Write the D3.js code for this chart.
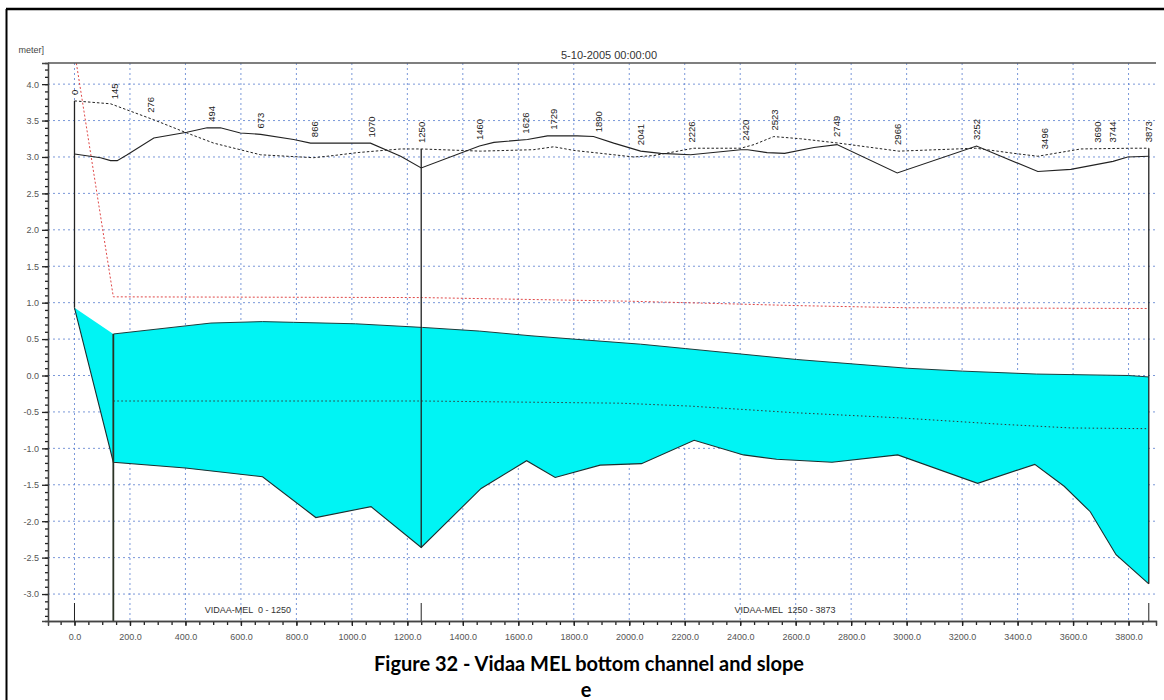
<!DOCTYPE html>
<html>
<head>
<meta charset="utf-8">
<script src="https://cdn.jsdelivr.net/npm/d3@7"></script>
<style>
body{margin:0;background:#fff;}
svg{display:block;font-family:"Liberation Sans",Arial,sans-serif;}
</style>
</head>
<body>
<div id="canvas"></div>
<script>
// cross-section chainages shown as rotated labels
var sectionCh = [0,145,276,494,673,866,1070,1250,1460,1626,1729,1890,2041,2226,2420,2523,2749,2966,3252,3496,3690,3744,3873];

// left bank (solid line)
var solidCh  = [0,94,130,154,190,286,405,478,526,598,671,790,851,1067,1176,1250,1460,1512,1633,1705,1813,1871,1944,2041,2113,2221,2402,2427,2497,2560,2666,2749,2966,3252,3473,3592,3744,3797,3873];
var solidLev = [3.04,2.99,2.95,2.95,3.03,3.26,3.34,3.40,3.40,3.33,3.31,3.24,3.19,3.19,3.01,2.85,3.15,3.20,3.24,3.29,3.29,3.28,3.19,3.08,3.05,3.03,3.10,3.10,3.06,3.05,3.13,3.17,2.78,3.15,2.80,2.83,2.94,3.00,3.01];

// right bank (dashed line)
var dashCh  = [0,130,286,405,502,671,862,935,1020,1176,1250,1464,1655,1728,1800,1897,2016,2089,2232,2402,2450,2521,2618,2755,2972,3249,3386,3473,3628,3808,3873];
var dashLev = [3.77,3.73,3.51,3.33,3.19,3.03,2.99,3.02,3.06,3.11,3.11,3.08,3.10,3.14,3.09,3.05,3.00,3.02,3.12,3.12,3.17,3.28,3.25,3.19,3.08,3.12,3.05,3.01,3.11,3.12,3.12];

// red dotted line
var redCh  = [0,140,1250,2000,2600,3000,3873];
var redLev = [4.45,1.08,1.07,1.02,0.96,0.93,0.92];

// water surface (top of cyan)
var waterCh  = [0,140,492,678,790,1013,1255,1460,1646,1833,2041,2202,2603,3002,3202,3468,3800,3873];
var waterLev = [0.93,0.57,0.72,0.74,0.73,0.71,0.66,0.61,0.545,0.49,0.43,0.37,0.22,0.10,0.06,0.02,0.0,-0.02];

// bed level (bottom of cyan)
var bedCh  = [0,140,400,678,870,1069,1250,1466,1630,1733,1895,2044,2234,2412,2531,2731,2968,3256,3462,3568,3662,3755,3873];
var bedLev = [0.93,-1.19,-1.27,-1.39,-1.95,-1.80,-2.36,-1.55,-1.17,-1.40,-1.23,-1.21,-0.89,-1.09,-1.15,-1.19,-1.09,-1.48,-1.22,-1.52,-1.87,-2.46,-2.86];

// black dotted line inside the water
var dotCh  = [140,1250,1969,2219,2593,2968,3343,3593,3873];
var dotLev = [-0.35,-0.35,-0.38,-0.42,-0.51,-0.58,-0.67,-0.72,-0.73];

// branches
var branchNames = ["VIDAA-MEL  0 - 1250","VIDAA-MEL  1250 - 3873"];
var branchFrom = [0,1250];
var branchTo = [1250,3873];
var branchEnds = [0,1250,3873];
var structureCh = [140];

var title = "5-10-2005 00:00:00";
var caption1 = "Figure 32 - Vidaa MEL bottom channel and slope";
var caption2 = "e";

//margin convention
var m = {t:63, r:8, b:79, l:48};
var outerWidth = 1164, outerHeight = 700;
var w = outerWidth - m.l - m.r,
    h = outerHeight - m.t - m.b;

var svg = d3.select('#canvas')
    .append('svg')
    .attr('width', outerWidth)
    .attr('height', outerHeight);

var plot = svg.append('g')
    .attr('transform','translate(' + m.l + ',' + m.t + ')');

var x = d3.scaleLinear().domain([-95.5, 3899]).range([0, w]);
var y = d3.scaleLinear().domain([-3.37, 4.29]).range([h, 0]);

// piecewise interpolators
var solidAt = d3.scaleLinear().domain(solidCh).range(solidLev);
var dashAt = d3.scaleLinear().domain(dashCh).range(dashLev);
var waterAt = d3.scaleLinear().domain(waterCh).range(waterLev);
var bedAt = d3.scaleLinear().domain(bedCh).range(bedLev);
function bankAt(c){ return Math.max(solidAt(c), dashAt(c)); }

plot.append('clipPath').attr('id','clip')
    .append('rect').attr('width', w).attr('height', h);

var xMajor = d3.range(0, 3801, 200);
var xMinor = d3.range(-50, 3899, 50);
var yMajor = d3.range(-6, 9).map(function(i){ return i/2; });
var yMinor = d3.range(-33, 43).map(function(i){ return i/10; });
var fmt = function(d){ return d.toFixed(1); };

//grid
var grid = plot.append('g').attr('class','grid');
grid.selectAll('.gx').data(xMajor).enter().append('line')
    .attr('x1', function(d){ return x(d); }).attr('x2', function(d){ return x(d); })
    .attr('y1', 0).attr('y2', h);
grid.selectAll('.gy').data(yMajor).enter().append('line')
    .attr('x1', 0).attr('x2', w)
    .attr('y1', function(d){ return y(d); }).attr('y2', function(d){ return y(d); });
grid.selectAll('line')
    .attr('stroke','#5a7fd0').attr('stroke-width',1)
    .attr('stroke-dasharray','2,3').attr('opacity',0.8);

var g = plot.append('g').attr('clip-path','url(#clip)');

//water body
var allCh = Array.from(new Set(waterCh.concat(bedCh))).sort(function(a,b){ return a-b; });
var area = d3.area()
    .x(function(d){ return x(d); })
    .y0(function(d){ return y(bedAt(d)); })
    .y1(function(d){ return y(waterAt(d)); });
g.append('path').datum(allCh).attr('d', area).attr('fill','#00f4f4');

function lineOf(chs, levs){
    return d3.line()(chs.map(function(c,i){ return [x(c), y(levs[i])]; }));
}

// water surface stroke (from the structure onward)
var wIdx = waterCh.map(function(c,i){ return i; }).filter(function(i){ return waterCh[i] >= structureCh[0]; });
g.append('path')
    .attr('d', lineOf(wIdx.map(function(i){ return waterCh[i]; }), wIdx.map(function(i){ return waterLev[i]; })))
    .attr('fill','none').attr('stroke','#1c3c3c').attr('stroke-width',1);

// bed
g.append('path').attr('d', lineOf(bedCh, bedLev))
    .attr('fill','none').attr('stroke','#1a2e2e').attr('stroke-width',1.1);

// dotted line in water
g.append('path').attr('d', lineOf(dotCh, dotLev))
    .attr('fill','none').attr('stroke','#333').attr('stroke-width',1)
    .attr('stroke-dasharray','1.5,2.5');

// red dotted
g.append('path').attr('d', lineOf(redCh, redLev))
    .attr('fill','none').attr('stroke','#e04848').attr('stroke-width',1)
    .attr('stroke-dasharray','2,2');

// banks
g.append('path').attr('d', lineOf(dashCh, dashLev))
    .attr('fill','none').attr('stroke','#222').attr('stroke-width',1)
    .attr('stroke-dasharray','2.5,2');
g.append('path').attr('d', lineOf(solidCh, solidLev))
    .attr('fill','none').attr('stroke','#222').attr('stroke-width',1.1);

// branch end verticals
g.selectAll('.bend').data(branchEnds).enter().append('line')
    .attr('x1', function(d){ return x(d); }).attr('x2', function(d){ return x(d); })
    .attr('y1', function(d){ return y(bankAt(d)); })
    .attr('y2', function(d){ return y(bedAt(d)); })
    .attr('stroke','#222').attr('stroke-width',1.3);

// structure vertical
g.selectAll('.struct').data(structureCh).enter().append('line')
    .attr('x1', function(d){ return x(d); }).attr('x2', function(d){ return x(d); })
    .attr('y1', function(d){ return y(waterAt(d)); })
    .attr('y2', h)
    .attr('stroke','#2b3325').attr('stroke-width',1.8);

// branch ticks at bottom
plot.selectAll('.btick').data(branchEnds).enter().append('line')
    .attr('x1', function(d){ return x(d); }).attr('x2', function(d){ return x(d); })
    .attr('y1', h - 18).attr('y2', h)
    .attr('stroke','#222').attr('stroke-width',1);

// branch names
plot.selectAll('.bname').data(branchNames).enter().append('text')
    .attr('x', function(d,i){ return x((branchFrom[i] + branchTo[i]) / 2); })
    .attr('y', h - 8)
    .attr('text-anchor','middle')
    .style('white-space','pre')
    .attr('font-size', 9).attr('fill','#333')
    .text(function(d){ return d; });

// section labels
plot.selectAll('.slab').data(sectionCh).enter().append('text')
    .attr('transform', function(d){ return 'translate(' + x(d) + ',' + (y(bankAt(d)) - 6) + ') rotate(-90)'; })
    .attr('dy','0.35em')
    .attr('font-size', 9.5).attr('fill','#222')
    .text(function(d){ return d; });

//axes
var axisX = d3.axisBottom(x).tickValues(xMajor).tickFormat(fmt).tickSize(5).tickPadding(8);
var axisXMinor = d3.axisBottom(x).tickValues(xMinor).tickFormat('').tickSize(4);
var axisY = d3.axisLeft(y).tickValues(yMajor).tickFormat(fmt).tickSize(6).tickPadding(3);
var axisYMinor = d3.axisLeft(y).tickValues(yMinor).tickFormat('').tickSize(3);

plot.append('g').attr('class','axis').attr('transform','translate(0,' + h + ')').call(axisXMinor);
plot.append('g').attr('class','axis').attr('transform','translate(0,' + h + ')').call(axisX);
plot.append('g').attr('class','axis').call(axisYMinor);
plot.append('g').attr('class','axis').call(axisY);

plot.selectAll('.axis .domain').attr('stroke','#444').attr('stroke-width',1.3);
plot.selectAll('.axis .tick line').attr('stroke','#222').attr('stroke-width',1.3);
plot.selectAll('.axis text').attr('font-size',9).attr('fill','#555')
    .attr('font-family','"Liberation Sans",Arial,sans-serif');

// top border of the plot
plot.append('line').attr('x1',0).attr('x2',w).attr('y1',0).attr('y2',0)
    .attr('stroke','#555').attr('stroke-width',1.5);

// title and unit
svg.append('text').attr('x', 609).attr('y', 59).attr('text-anchor','middle')
    .attr('font-size', 11).attr('fill','#333').text(title);
svg.append('text').attr('x', 44).attr('y', 53).attr('text-anchor','end')
    .attr('font-size', 9).attr('fill','#444').text('meter]');

// outer frame
svg.append('line').attr('x1',6).attr('x2',outerWidth).attr('y1',9).attr('y2',9)
    .attr('stroke','#000').attr('stroke-width',2.5);
svg.append('line').attr('x1',6.5).attr('x2',6.5).attr('y1',9).attr('y2',outerHeight)
    .attr('stroke','#000').attr('stroke-width',2);

// caption
svg.append('text').attr('x', 589).attr('y', 671).attr('text-anchor','middle')
    .attr('font-family','Lato, "Open Sans", sans-serif').attr('font-weight','bold')
    .attr('font-size', 20).attr('fill','#000').text(caption1);
svg.append('text').attr('x', 586).attr('y', 697).attr('text-anchor','middle')
    .attr('font-family','Lato, "Open Sans", sans-serif').attr('font-weight','bold')
    .attr('font-size', 20).attr('fill','#000').text(caption2);
</script>
</body>
</html>
